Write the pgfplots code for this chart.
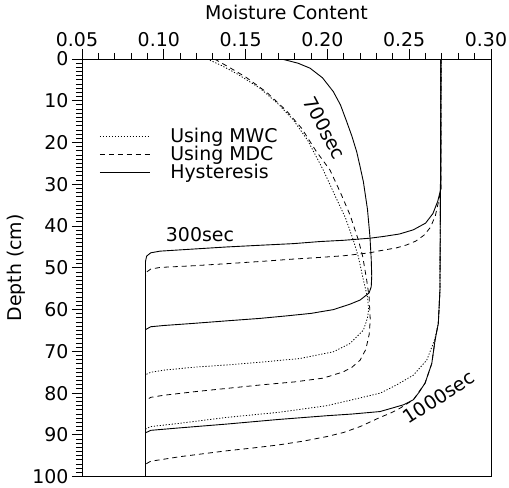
\documentclass[border=0pt]{standalone}
\usepackage{fontspec}
\setmainfont{DejaVu Sans}
\usepackage{pgfplots}
\pgfplotsset{compat=1.18}
\newcommand{\bigf}{\fontsize{19}{21}\selectfont}
\tikzset{
  mwc/.style={black, line width=0.8pt, dash pattern=on 1.2pt off 1.8pt},
  mdc/.style={black, line width=0.8pt, dash pattern=on 5pt off 4pt},
  hys/.style={black, line width=0.9pt}
}
\begin{document}
\begin{tikzpicture}
\begin{axis}[
  at={(0,0)}, anchor=south west,
  scale only axis, width=409bp, height=417.7bp,
  xmin=0.05, xmax=0.30, ymin=0, ymax=100, y dir=reverse,
  xtick={0.05,0.10,0.15,0.20,0.25,0.30},
  ytick={0,10,20,30,40,50,60,70,80,90,100},
  minor xtick={0.06,0.07,0.08,0.09,0.11,0.12,0.13,0.14,0.16,0.17,0.18,0.19,0.21,0.22,0.23,0.24,0.26,0.27,0.28,0.29},
  minor ytick={1,2,...,99},
  xtick pos=right, xticklabel pos=right,
  ytick pos=left, yticklabel pos=left,
  tick align=outside,
  major tick length=10bp, minor tick length=6bp,
  tick style={black, line width=1pt},
  axis line style={line width=0.8pt},
  /pgf/number format/assume math mode=true,
  xticklabel style={/pgf/number format/.cd, fixed, fixed zerofill, precision=2, /tikz/.cd, xshift=-5bp, yshift=-1bp},
  tick label style={font=\bigf},
  label style={font=\bigf},
  xlabel={Moisture Content},
  xlabel style={yshift=6bp},
  ylabel={Depth (cm)},
  legend cell align=left,
  legend image code/.code={\draw[#1] (0bp,0bp) -- (50bp,0bp);},
  legend style={at={(axis cs:0.0605,16.3)}, anchor=north west, draw=none, fill=none,
    font=\bigf, row sep=0pt, inner sep=0pt, nodes={inner sep=1pt},
    /tikz/every odd column/.append style={column sep=19bp}},
]
\addlegendimage{mwc}\addlegendentry{Using MWC}
\addlegendimage{mdc}\addlegendentry{Using MDC}
\addlegendimage{hys}\addlegendentry{Hysteresis}

% 300 sec
\addplot[mdc, forget plot] coordinates {(0.2694,0) (0.2694,31) (0.2680,34) (0.2660,37.5) (0.2630,40.3) (0.2590,42.2) (0.2540,43.6) (0.2485,44.5) (0.2424,45.2) (0.2322,45.9) (0.2260,46.4) (0.2100,47.1) (0.1955,47.5) (0.1792,47.9) (0.1580,48.5) (0.1384,49.0) (0.1180,49.5) (0.0977,49.9) (0.0920,50.3) (0.0895,51.0) (0.0888,52) (0.0888,100)};
\addplot[hys, forget plot] coordinates {(0.2694,0) (0.2694,31) (0.2675,34) (0.2645,37) (0.2600,39.3) (0.2525,40.9) (0.2440,41.9) (0.2340,42.5) (0.2260,42.9) (0.2100,43.4) (0.1955,43.7) (0.1792,44.2) (0.1584,44.6) (0.1384,45.0) (0.1180,45.5) (0.0977,46.0) (0.0920,46.4) (0.0895,47.2) (0.0888,48.5) (0.0888,100)};

% 700 sec
\addplot[mwc, forget plot] coordinates {(0.1265,0) (0.1350,1.5) (0.1450,3.6) (0.1588,7.0) (0.1700,10.8) (0.1792,14.6) (0.1880,19.5) (0.1975,26.6) (0.2050,33) (0.2110,38) (0.2158,43.3) (0.2189,47.3) (0.2220,52.9) (0.2245,57) (0.2252,60) (0.2245,62) (0.2220,64.9) (0.2138,68.1) (0.2036,70.1) (0.1833,71.7) (0.1588,72.6) (0.1400,73.2) (0.1180,73.8) (0.1000,74.5) (0.0920,75.0) (0.0888,75.6) (0.0888,100)};
\addplot[mdc, forget plot] coordinates {(0.1310,0) (0.1400,2) (0.1500,4.3) (0.1630,8.0) (0.1750,12.4) (0.1843,16.6) (0.1930,22) (0.2016,26.6) (0.2080,32) (0.2140,37.5) (0.2189,43.3) (0.2216,47.3) (0.2240,52.9) (0.2255,57) (0.2262,62.5) (0.2255,66) (0.2235,69.5) (0.2200,72.1) (0.2150,73.8) (0.2097,74.9) (0.1975,76.4) (0.1800,77.3) (0.1600,78.0) (0.1400,78.8) (0.1200,79.6) (0.1000,80.5) (0.0920,81.0) (0.0888,81.8) (0.0888,100)};
\addplot[hys, forget plot] coordinates {(0.172,0) (0.182,1.0) (0.1894,2.2) (0.1970,4.5) (0.2036,7.8) (0.2080,11) (0.2118,15) (0.2150,18.5) (0.2179,22.2) (0.2200,25.8) (0.2220,29.4) (0.2245,36) (0.2260,42.5) (0.2268,48) (0.2271,52) (0.2268,54.5) (0.2255,56) (0.2200,57.7) (0.2138,58.7) (0.2036,60.0) (0.1900,60.9) (0.1750,61.5) (0.1588,62.1) (0.1380,62.7) (0.1180,63.3) (0.1000,63.8) (0.0920,64.1) (0.0888,64.8) (0.0888,100)};

% 1000 sec
\addplot[mwc, forget plot] coordinates {(0.2694,0) (0.2690,40) (0.2688,55.3) (0.2678,63.3) (0.2660,66.5) (0.2647,68.1) (0.2607,72.1) (0.2525,75.7) (0.2424,78.0) (0.2322,80) (0.2150,81.6) (0.1996,83.0) (0.1700,84.6) (0.1384,85.8) (0.1100,87.2) (0.0920,88.0) (0.0888,88.6) (0.0888,100)};
\addplot[mdc, forget plot] coordinates {(0.2694,0) (0.2690,40) (0.2688,55.3) (0.2678,63.3) (0.2658,67.3) (0.2638,72.9) (0.2597,77.6) (0.2525,81.6) (0.2444,83.6) (0.2390,84.7) (0.2322,85.8) (0.2200,88.0) (0.2100,89.4) (0.1996,90.4) (0.1850,91.5) (0.1700,92.4) (0.1550,93.1) (0.1384,93.8) (0.1100,95.2) (0.0920,96.3) (0.0888,97) (0.0888,100)};
\addplot[hys, forget plot] coordinates {(0.2694,0) (0.2690,40) (0.2688,55.3) (0.2678,63.3) (0.2658,67.3) (0.2638,72.9) (0.2597,77.6) (0.2560,79.8) (0.2525,81.6) (0.2464,82.8) (0.2322,84.4) (0.2150,85.0) (0.1996,85.4) (0.1700,86.3) (0.1384,87.4) (0.1100,88.3) (0.0920,88.9) (0.0888,89.5) (0.0888,100)};

\node[font=\bigf] at (axis cs:0.1221,42.0) [anchor=south, yshift=-11bp] {300sec};
\node[font=\bigf, rotate=-62] at (axis cs:0.1985,16.5) {700sec};
\node[font=\bigf, rotate=33] at (axis cs:0.2680,81.0) {1000sec};
\end{axis}
\pgfresetboundingbox
\path (-82bp,-11.3bp) rectangle (427bp,476.7bp);
\end{tikzpicture}
\end{document}
